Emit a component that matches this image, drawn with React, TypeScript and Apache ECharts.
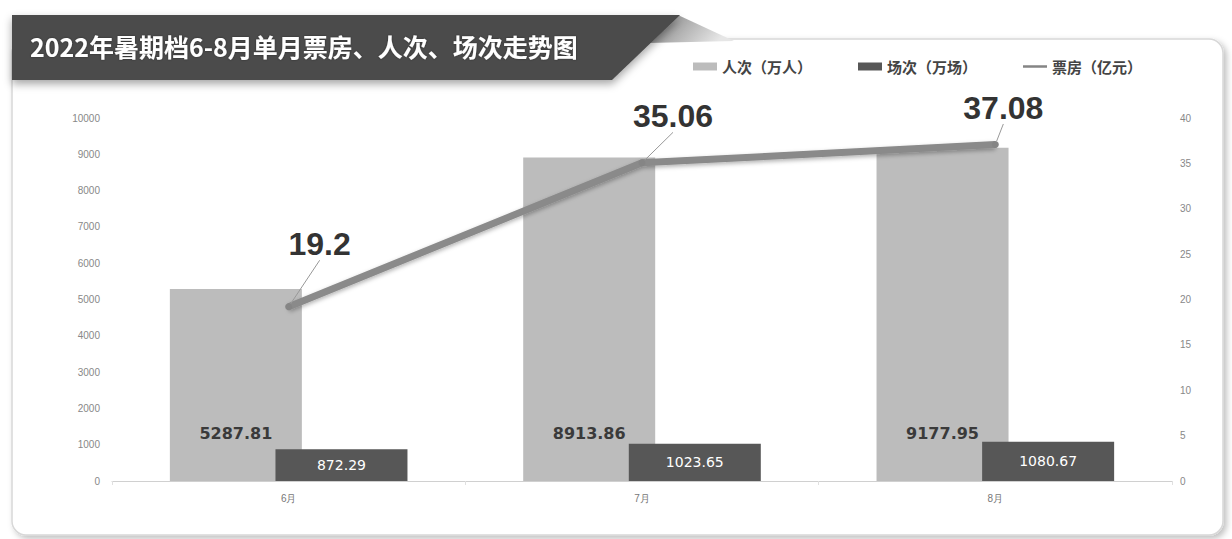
import React, { useEffect, useRef } from "react";
import * as echarts from "echarts";

const categories = ["6月", "7月", "8月"];
const audience = [5287.81, 8913.86, 9177.95];
const screenings = [872.29, 1023.65, 1080.67];
const boxOffice = [19.2, 35.06, 37.08];
const titleText = "2022年暑期档6-8月单月票房、人次、场次走势图";
const seriesNames = ["人次（万人）", "场次（万场）", "票房（亿元）"];
const lineLabelOffsets = [
  [31, -38],
  [31, -22],
  [8, -12],
];

export default function App() {
  const ref = useRef<HTMLDivElement>(null);
  useEffect(() => {
    document.body.style.margin = "0";
    const chart = echarts.init(ref.current!, null, { renderer: "svg" });
    chart.setOption({
      animation: false,
      backgroundColor: "#ffffff",
      graphic: [
        {
          type: "rect",
          z: -10,
          shape: { x: 12, y: 39, width: 1211, height: 496, r: 14 },
          style: {
            fill: "#ffffff",
            stroke: "#d8d8d8",
            lineWidth: 1.5,
            shadowColor: "rgba(0,0,0,0.25)",
            shadowBlur: 6,
            shadowOffsetX: 3,
            shadowOffsetY: 3,
          },
        },
        {
          type: "polygon",
          z: 100,
          shape: {
            points: [
              [678, 15],
              [734, 41],
              [648, 43],
            ],
          },
          style: {
            fill: new echarts.graphic.LinearGradient(0, 0, 1, 0.3, [
              { offset: 0, color: "#7a7a7a" },
              { offset: 1, color: "#e6e6e6" },
            ]),
          },
        },
        {
          type: "polygon",
          z: 101,
          shape: {
            points: [
              [12, 15],
              [680, 15],
              [612, 80],
              [12, 80],
            ],
          },
          style: {
            fill: "#4b4b4b",
            shadowColor: "rgba(0,0,0,0.35)",
            shadowBlur: 8,
            shadowOffsetY: 4,
          },
        },
        {
          type: "text",
          z: 102,
          x: 30,
          y: 46,
          style: {
            text: titleText,
            fill: "#ffffff",
            font: 'bold 25px "Noto Sans CJK SC"',
            verticalAlign: "middle",
            textShadowColor: "rgba(0,0,0,0.4)",
            textShadowBlur: 2,
          },
        },
      ],
      legend: {
        left: 688,
        top: 54,
        itemWidth: 24,
        itemHeight: 8,
        itemGap: 46,
        textStyle: {
          fontSize: 15,
          fontWeight: "bold",
          color: "#444",
          fontFamily: "Noto Sans CJK SC",
        },
        data: [
          { name: seriesNames[0], icon: "rect" },
          { name: seriesNames[1], icon: "rect" },
          { name: seriesNames[2], icon: "path://M0,0H24V2.5H0Z" },
        ],
      },
      grid: { left: 112, right: 60, top: 118, bottom: 58 },
      xAxis: {
        type: "category",
        data: categories,
        axisLine: { lineStyle: { color: "#d0d0d0", width: 1 } },
        axisTick: { show: true, length: 4, lineStyle: { color: "#e0e0e0" } },
        axisLabel: { fontSize: 10, color: "#777", margin: 12 },
      },
      yAxis: [
        {
          type: "value",
          min: 0,
          max: 10000,
          interval: 1000,
          axisLine: { show: false },
          axisTick: { show: false },
          splitLine: { show: false },
          axisLabel: {
            fontSize: 10,
            color: "#888",
            margin: 12,
            formatter: (v: number) => String(v),
          },
        },
        {
          type: "value",
          min: 0,
          max: 40,
          interval: 5,
          axisLine: { show: false },
          axisTick: { show: false },
          splitLine: { show: false },
          axisLabel: { fontSize: 10, color: "#888", margin: 8 },
        },
      ],
      series: [
        {
          name: seriesNames[0],
          type: "bar",
          data: audience,
          barWidth: 132,
          barGap: "-20%",
          itemStyle: { color: "#bcbcbc" },
          label: {
            show: true,
            position: "insideBottom",
            distance: 40,
            fontSize: 16,
            fontWeight: "bold",
            color: "#3a3a3a",
            fontFamily: "DejaVu Sans",
          },
        },
        {
          name: seriesNames[1],
          type: "bar",
          data: screenings,
          barWidth: 132,
          itemStyle: { color: "#575757" },
          label: {
            show: true,
            position: "inside",
            fontSize: 14,
            color: "#ffffff",
            fontFamily: "DejaVu Sans",
          },
        },
        {
          name: seriesNames[2],
          type: "line",
          yAxisIndex: 1,
          data: boxOffice,
          symbol: "circle",
          symbolSize: 7,
          itemStyle: { color: "#858585" },
          lineStyle: {
            color: "#8a8a8a",
            width: 7,
            shadowColor: "rgba(0,0,0,0.3)",
            shadowBlur: 4,
            shadowOffsetY: 2,
          },
          z: 5,
          label: {
            show: true,
            position: "top",
            fontSize: 32,
            fontWeight: "bold",
            color: "#333",
            fontFamily: "Liberation Sans",
          },
          labelLine: { show: true, lineStyle: { color: "#999", width: 1 } },
          labelLayout: (params: any) => {
            const o = lineLabelOffsets[params.dataIndex] || [0, 0];
            return { dx: o[0], dy: o[1] };
          },
        },
      ],
    });
    return () => chart.dispose();
  }, []);
  return <div ref={ref} style={{ width: 1232, height: 539 }} />;
}
